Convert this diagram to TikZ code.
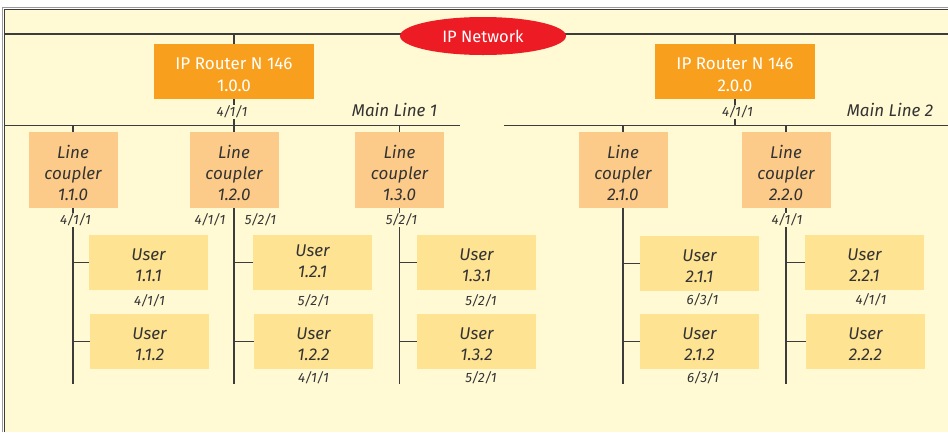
\documentclass[tikz,border=0pt]{standalone}
\usepackage{fontspec}
\setmainfont{Fira Sans}
\usetikzlibrary{shapes.geometric}

\definecolor{paper}{HTML}{FFF9D4}
\definecolor{rule}{HTML}{3C3C3C}
\definecolor{frame}{HTML}{9A9A9A}
\definecolor{routerfill}{HTML}{F8A01D}
\definecolor{couplerfill}{HTML}{FDCB89}
\definecolor{userfill}{HTML}{FEE393}
\definecolor{netred}{HTML}{ED1C24}
\definecolor{ink}{HTML}{333333}

% move a line of box text by #1 while keeping its natural extents
\newcommand{\nudge}[2]{\raisebox{#1}[\height][\depth]{#2}}
\newcommand{\dn}[1]{\nudge{-2.8pt}{#1}}
\newcommand{\up}[1]{\nudge{1.5pt}{#1}}

\pgfdeclarelayer{sheet}
\pgfdeclarelayer{bg}
\pgfsetlayers{sheet,bg,main}

\begin{document}
\begin{tikzpicture}[x=1pt,y=-1pt,
  wire/.style={draw=rule, line width=1.4pt},
  netbox/.style={ellipse, fill=netred, minimum width=166pt, minimum height=38pt,
    inner sep=0pt, text=white, font=\fontsize{16.5}{18}\selectfont},
  routerbox/.style={fill=routerfill, minimum width=160pt, minimum height=55pt,
    inner sep=0pt, align=center, text=white, font=\fontsize{17}{22}\selectfont},
  couplerbox/.style={fill=couplerfill, minimum width=89pt, minimum height=76pt,
    inner sep=0pt, align=center, text=ink, font=\fontsize{17}{21}\selectfont\itshape},
  userbox/.style={fill=userfill, minimum width=119pt, minimum height=55pt,
    inner sep=0pt, align=center, text=ink, font=\fontsize{17}{21.5}\selectfont\itshape},
  addr/.style={fill=paper, inner sep=1pt, text=ink, font=\fontsize{13.5}{15}\selectfont\itshape},
  linelabel/.style={inner sep=0pt, text=ink, font=\fontsize{17}{20}\selectfont\itshape}]

\useasboundingbox (0,0) rectangle (948,432);

% sheet and its frame
\begin{pgfonlayer}{sheet}
  \fill[white] (0,0) rectangle (948,432);
  \fill[paper] (4,9) rectangle (948,432);
  \draw[frame, line width=1pt] (2.8,432) -- (2.8,7.8) -- (948,7.8);
  \draw[rule, line width=1.4pt] (4.6,432) -- (4.6,9.6) -- (948,9.6);
\end{pgfonlayer}

% bus ends
\coordinate (ipW) at (4.6,34);
\coordinate (ipE) at (948,34);
\coordinate (m1W) at (4.6,125.5);
\coordinate (m1E) at (460,125.5);
\coordinate (m2W) at (504,125.5);
\coordinate (m2E) at (948,125.5);
\coordinate (bot) at (0,384);

% network and routers
\node[netbox] (net) at (483,36) {IP Network};
\node[routerbox] (r1) at (234,71.5) {\dn{IP Router N 146}\\\dn{1.0.0}};
\node[routerbox] (r2) at (735,71.5) {\dn{IP Router N 146}\\\dn{2.0.0}};

\node[linelabel] (ml1) at (394.5,110) {Main Line 1};
\node[linelabel] (ml2) at (890,110) {Main Line 2};

% line couplers
\node[couplerbox] (lc11) at (73,170) {\dn{Line}\\\dn{coupler}\\\dn{1.1.0}};
\node[couplerbox] (lc12) at (234,170) {\dn{Line}\\\dn{coupler}\\\dn{1.2.0}};
\node[couplerbox] (lc13) at (399.5,170) {\dn{Line}\\\dn{coupler}\\\dn{1.3.0}};
\node[couplerbox] (lc21) at (623,170) {\dn{Line}\\\dn{coupler}\\\dn{2.1.0}};
\node[couplerbox] (lc22) at (786,170) {\dn{Line}\\\dn{coupler}\\\dn{2.2.0}};

% users
\node[userbox] (u111) at (148.5,262.5) {\dn{User}\\\dn{1.1.1}};
\node[userbox] (u112) at (149.5,341.5) {\dn{User}\\\dn{1.1.2}};
\node[userbox] (u121) at (312.5,262.5) {\up{User}\\\up{1.2.1}};
\node[userbox] (u122) at (313.5,341.5) {\dn{User}\\\dn{1.2.2}};
\node[userbox] (u131) at (476.5,262.5) {\dn{User}\\\dn{1.3.1}};
\node[userbox] (u132) at (476.5,341.5) {\dn{User}\\\dn{1.3.2}};
\node[userbox] (u211) at (699.5,263.5) {\dn{User}\\\dn{2.1.1}};
\node[userbox] (u212) at (699.5,341.5) {\dn{User}\\\dn{2.1.2}};
\node[userbox] (u221) at (864.5,262.5) {\dn{User}\\\dn{2.2.1}};
\node[userbox] (u222) at (865.5,341.5) {\dn{User}\\\dn{2.2.2}};

% device addresses
\node[addr] (ar1) at (232,112) {4/1/1};
\node[addr] (ar2) at (737.5,112) {4/1/1};
\node[addr] (a11) at (75.5,220) {4/1/1};
\node[addr] (a12a) at (210,220) {4/1/1};
\node[addr] (a12b) at (260.5,220) {5/2/1};
\node[addr] (a13) at (401.5,220) {5/2/1};
\node[addr] (a22) at (787,220) {4/1/1};
\node[addr] (b111) at (149.5,300.5) {4/1/1};
\node[addr] (b121) at (313.5,300.5) {5/2/1};
\node[addr] (b122) at (313.5,378) {4/1/1};
\node[addr] (b131) at (481,300.5) {5/2/1};
\node[addr] (b132) at (481,378) {5/2/1};
\node[addr] (b211) at (702.5,299.5) {6/3/1};
\node[addr] (b212) at (703,378) {6/3/1};
\node[addr] (b221) at (871,299.5) {4/1/1};

\begin{pgfonlayer}{bg}
  % buses
  \draw[wire] (ipW) -- (ipE);
  \draw[wire] (m1W) -- (m1E);
  \draw[wire] (m2W) -- (m2E);
  % router drops
  \draw[wire] (r1 |- ipW) -- (r1 |- m1W);
  \draw[wire] (r2 |- ipW) -- (r2 |- m2W);
  % line drops
  \draw[wire] (lc11 |- m1W) -- (lc11 |- bot);
  \draw[wire] (lc12 |- m1W) -- (lc12 |- bot);
  \draw[wire] (lc13 |- m1W) -- (lc13 |- bot);
  \draw[wire] (lc21 |- m2W) -- (lc21 |- bot);
  \draw[wire] (lc22 |- m2W) -- (lc22 |- bot);
  % user branches
  \draw[wire] (u111.west) -- (u111.west -| lc11);
  \draw[wire] (u112.west) -- (u112.west -| lc11);
  \draw[wire] (u121.west) -- (u121.west -| lc12);
  \draw[wire] (u122.west) -- (u122.west -| lc12);
  \draw[wire] (u131.west) -- (u131.west -| lc13);
  \draw[wire] (u132.west) -- (u132.west -| lc13);
  \draw[wire] (u211.west) -- (u211.west -| lc21);
  \draw[wire] (u212.west) -- (u212.west -| lc21);
  \draw[wire] (u221.west) -- (u221.west -| lc22);
  \draw[wire] (u222.west) -- (u222.west -| lc22);
\end{pgfonlayer}
\end{tikzpicture}
\end{document}
